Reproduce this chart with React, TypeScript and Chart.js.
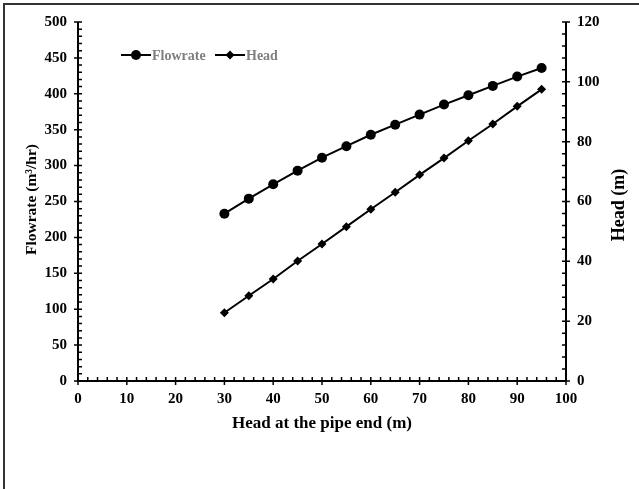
import React, { useEffect, useRef } from "react";
import { Chart, registerables } from "chart.js";

Chart.register(...registerables);

const headAtEnd = [30, 35, 40, 45, 50, 55, 60, 65, 70, 75, 80, 85, 90, 95];
const flowrate = [233, 254, 274, 293, 311, 327, 343, 357, 371, 385, 398, 411, 424, 436];
const head = [22.8, 28.5, 34.1, 40.1, 45.8, 51.6, 57.4, 63.1, 68.9, 74.5, 80.3, 85.9, 91.8, 97.5];

const xTitle = "Head at the pipe end (m)";
const yTitle = "Flowrate (m³/hr)";
const y1Title = "Head (m)";

const FONT = "'Liberation Serif', 'Times New Roman', serif";

const axesPlugin = {
  id: "customAxes",
  afterDraw(chart: any) {
    const ctx = chart.ctx as CanvasRenderingContext2D;
    const { left, right, top, bottom } = chart.chartArea;
    const xs = chart.scales.x;
    const ys = chart.scales.y;
    const y1s = chart.scales.y1;
    ctx.save();
    // outer border (left and top visible)
    ctx.strokeStyle = "#333";
    ctx.lineWidth = 2;
    ctx.beginPath();
    ctx.moveTo(4, 489);
    ctx.lineTo(4, 4);
    ctx.lineTo(639, 4);
    ctx.stroke();

    ctx.strokeStyle = "#000";
    ctx.lineWidth = 2;
    ctx.lineCap = "butt";
    ctx.beginPath();
    ctx.moveTo(left, top);
    ctx.lineTo(left, bottom);
    ctx.lineTo(right, bottom);
    ctx.moveTo(right, top);
    ctx.lineTo(right, bottom);
    ctx.stroke();

    ctx.lineWidth = 1.5;
    ctx.beginPath();
    for (let v = 0; v <= 100; v += 2) {
      const px = xs.getPixelForValue(v);
      if (v % 10 === 0) {
        ctx.moveTo(px, bottom - 4);
        ctx.lineTo(px, bottom + 4);
      } else {
        ctx.moveTo(px, bottom - 4);
        ctx.lineTo(px, bottom);
      }
    }
    for (let v = 0; v <= 500; v += 10) {
      const py = ys.getPixelForValue(v);
      if (v % 50 === 0) {
        ctx.moveTo(left - 4, py);
        ctx.lineTo(left + 4, py);
      } else {
        ctx.moveTo(left, py);
        ctx.lineTo(left + 4, py);
      }
    }
    for (let v = 0; v <= 120; v += 4) {
      const py = y1s.getPixelForValue(v);
      if (v % 20 === 0) {
        ctx.moveTo(right - 4, py);
        ctx.lineTo(right + 4, py);
      } else {
        ctx.moveTo(right - 4, py);
        ctx.lineTo(right, py);
      }
    }
    ctx.stroke();

    // titles
    ctx.fillStyle = "#000";
    ctx.textAlign = "center";
    ctx.textBaseline = "middle";
    ctx.font = `bold 17px ${FONT}`;
    ctx.fillText(xTitle, (left + right) / 2, 424);
    ctx.save();
    ctx.font = `bold 15.5px ${FONT}`;
    ctx.translate(32, (top + bottom) / 2 - 2);
    ctx.rotate(-Math.PI / 2);
    ctx.fillText(yTitle, 0, 0);
    ctx.restore();
    ctx.save();
    ctx.font = `bold 18px ${FONT}`;
    ctx.translate(619, 205);
    ctx.rotate(-Math.PI / 2);
    ctx.fillText(y1Title, 0, 0);
    ctx.restore();

    // legend
    const ly = 55;
    const items = [
      { x0: 121, label: chart.data.datasets[0].label, style: "circle", r: 5 },
      { x0: 215, label: chart.data.datasets[1].label, style: "diamond", r: 4.5 },
    ];
    ctx.font = `bold 14px ${FONT}`;
    ctx.textAlign = "left";
    for (const it of items) {
      ctx.strokeStyle = "#000";
      ctx.lineWidth = 2;
      ctx.beginPath();
      ctx.moveTo(it.x0, ly);
      ctx.lineTo(it.x0 + 30, ly);
      ctx.stroke();
      const cx = it.x0 + 15;
      ctx.fillStyle = "#000";
      ctx.beginPath();
      if (it.style === "circle") {
        ctx.arc(cx, ly, it.r, 0, Math.PI * 2);
      } else {
        ctx.moveTo(cx, ly - it.r);
        ctx.lineTo(cx + it.r, ly);
        ctx.lineTo(cx, ly + it.r);
        ctx.lineTo(cx - it.r, ly);
        ctx.closePath();
      }
      ctx.fill();
      ctx.fillStyle = "#7f7f7f";
      ctx.fillText(it.label, it.x0 + 31, ly + 1);
    }
    ctx.restore();
  },
};

export default function App() {
  const ref = useRef<HTMLCanvasElement>(null);
  useEffect(() => {
    if (!ref.current) return;
    const tickFont = { family: FONT, size: 15, weight: "bold" as const };
    const chart = new Chart(ref.current, {
      type: "line",
      data: {
        labels: headAtEnd,
        datasets: [
          {
            label: "Flowrate",
            data: headAtEnd.map((x, i) => ({ x, y: flowrate[i] })),
            yAxisID: "y",
            borderColor: "#000",
            backgroundColor: "#000",
            borderWidth: 2,
            pointStyle: "circle",
            pointRadius: 5,
            pointBorderWidth: 0,
          },
          {
            label: "Head",
            data: headAtEnd.map((x, i) => ({ x, y: head[i] })),
            yAxisID: "y1",
            borderColor: "#000",
            backgroundColor: "#000",
            borderWidth: 2,
            pointStyle: "rectRot",
            pointRadius: 4.5,
            pointBorderWidth: 0,
          },
        ],
      },
      options: {
        animation: false,
        responsive: false,
        maintainAspectRatio: false,
        layout: { padding: { top: 22, left: 0, right: 0, bottom: 0 } },
        plugins: { legend: { display: false }, tooltip: { enabled: false } },
        scales: {
          x: {
            type: "linear",
            min: 0,
            max: 100,
            ticks: { stepSize: 10, font: tickFont, color: "#000", padding: 9, maxRotation: 0 },
            grid: { display: false, drawTicks: false },
            border: { display: false },
            afterFit: (s: any) => { s.height = 108; },
          },
          y: {
            type: "linear",
            position: "left",
            min: 0,
            max: 500,
            ticks: { stepSize: 50, font: tickFont, color: "#000", padding: 11 },
            grid: { display: false, drawTicks: false },
            border: { display: false },
            afterFit: (s: any) => { s.width = 78; },
          },
          y1: {
            type: "linear",
            position: "right",
            min: 0,
            max: 120,
            ticks: { stepSize: 20, font: tickFont, color: "#000", padding: 11 },
            grid: { display: false, drawTicks: false },
            border: { display: false },
            afterFit: (s: any) => { s.width = 73; },
          },
        },
      },
      plugins: [axesPlugin],
    });
    return () => chart.destroy();
  }, []);
  return (
    <div style={{ position: "fixed", left: 0, top: 0, width: 639, height: 489, background: "#fff" }}>
      <canvas ref={ref} width={639} height={489} style={{ display: "block" }} />
    </div>
  );
}
